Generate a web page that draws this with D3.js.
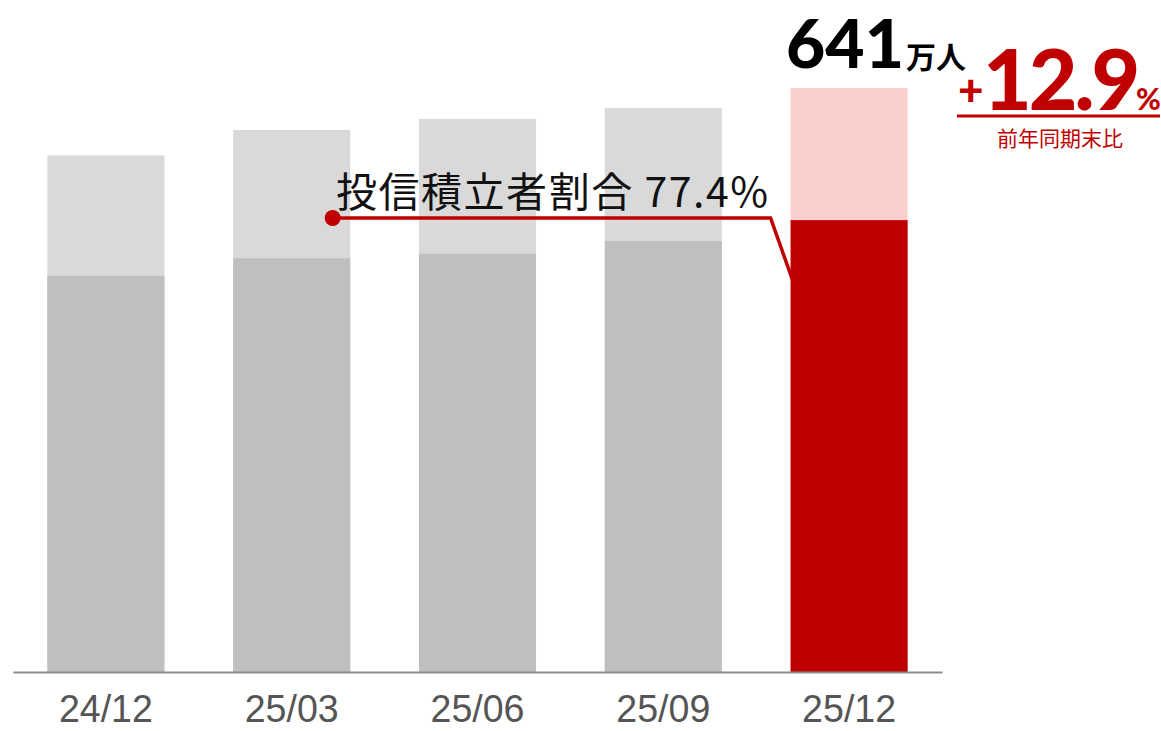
<!DOCTYPE html>
<html><head><meta charset="utf-8">
<script src="https://cdn.jsdelivr.net/npm/d3@7/dist/d3.min.js"></script>
<style>body{margin:0;background:#fff}svg{display:block}</style>
</head><body><svg id="c" width="1161" height="731"></svg>
<script>
const categories = ["24/12","25/03","25/06","25/09","25/12"];
const totalUsers = [567, 595, 607, 619, 641];      // 万人
const accumUsers = [435, 454, 459, 473, 496];      // 投信積立者 (万人)
const headline = "641";
const growth = "12.9";
const ratioLabel = "投信積立者割合 77.4%";

const svg = d3.select("#c");
const base = 672;
const x = d3.scaleBand().domain(categories).range([13, 942]).paddingInner(0.37).paddingOuter(0.185);
const y = d3.scaleLinear().domain([0, 700]).range([base, base - 700 * 584 / 641]);
const bw = x.bandwidth();
const last = categories.length - 1;

const g = svg.append("g");
categories.forEach((c, i) => {
  const isLast = i === last;
  g.append("rect").attr("x", x(c)).attr("width", bw)
    .attr("y", y(totalUsers[i])).attr("height", y(0) - y(totalUsers[i]))
    .attr("fill", isLast ? "#fccfcf" : "#d9d9d9");
  g.append("rect").attr("x", x(c)).attr("width", bw)
    .attr("y", y(accumUsers[i])).attr("height", y(0) - y(accumUsers[i]))
    .attr("fill", isLast ? "#c00000" : "#bfbfbf");
});

// axis
const ax = svg.append("g").attr("transform", `translate(0,${base})`)
  .call(d3.axisBottom(x).tickSize(0).tickPadding(50));
ax.select(".domain").attr("stroke", "#8c8c8c").attr("stroke-width", 2);
ax.selectAll("text").attr("font-family", "'Liberation Sans', Arial, sans-serif")
  .attr("font-size", 39).attr("fill", "#555").attr("dy", 0)
  .attr("textLength", 94).attr("lengthAdjust", "spacingAndGlyphs");

// annotation
const lineY = 218;
const sx = x(categories[1]) + bw * 0.85;
const ex = x(categories[last]) + 2;
svg.append("path")
  .attr("d", `M${sx},${lineY} L${ex - 22},${lineY} L${ex},${y(accumUsers[last]) + 60}`)
  .attr("fill", "none").attr("stroke", "#c00000").attr("stroke-width", 3.5);
svg.append("circle").attr("cx", sx).attr("cy", lineY).attr("r", 8).attr("fill", "#c00000");
svg.append("text").attr("x", 336).attr("y", 207)
  .attr("font-family", "'Noto Sans CJK JP', sans-serif").attr("font-size", 41)
  .attr("fill", "#111").attr("textLength", 432).attr("lengthAdjust", "spacing").text(ratioLabel);

// headline
const ht = svg.append("text").attr("x", 786).attr("y", 68).attr("fill", "#000");
ht.append("tspan").attr("font-family", "Lato, sans-serif").attr("font-size", 67).attr("font-weight", 900)
  .attr("textLength", 118).attr("lengthAdjust", "spacingAndGlyphs").text(headline);
ht.append("tspan").attr("font-family", "'Noto Sans CJK JP', sans-serif").attr("font-size", 30)
  .attr("font-weight", 700).attr("dx", 2).text("万人");

const gt = svg.append("text").attr("y", 110).attr("fill", "#c00000")
  .attr("font-family", "Lato, sans-serif").attr("font-weight", 900);
gt.append("tspan").attr("x", 958).attr("y", 106).attr("font-size", 44).text("+");
gt.append("tspan").attr("x", 983).attr("y", 110).attr("font-size", 84)
  .attr("letter-spacing", -3).text(growth);
gt.append("tspan").attr("x", 1136).attr("y", 110).attr("font-size", 30).text("%");
svg.append("line").attr("x1", 957).attr("x2", 1160).attr("y1", 116).attr("y2", 116)
  .attr("stroke", "#c00000").attr("stroke-width", 3);
svg.append("text").attr("x", 1060).attr("y", 146).attr("text-anchor", "middle")
  .attr("font-family", "'Noto Sans CJK JP', sans-serif").attr("font-size", 21)
  .attr("fill", "#c00000").text("前年同期末比");
</script></body></html>
